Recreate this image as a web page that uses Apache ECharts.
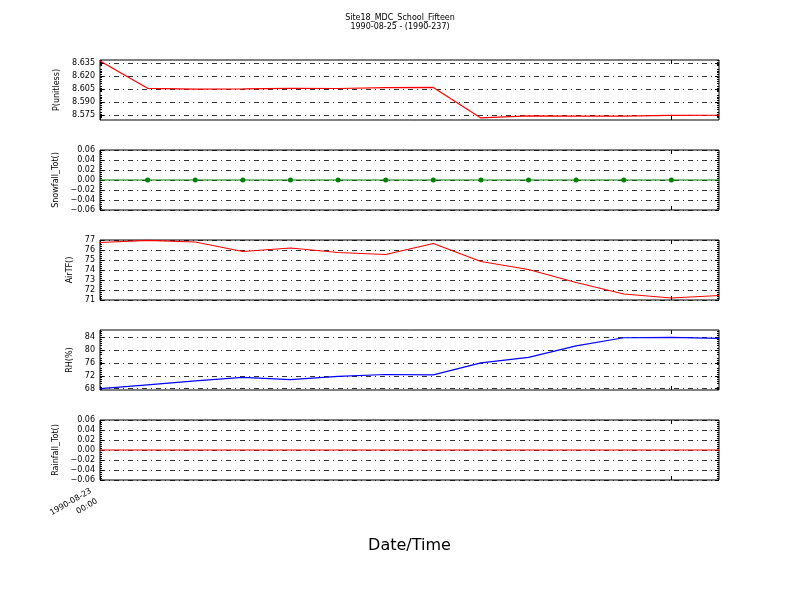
<!DOCTYPE html>
<html><head><meta charset="utf-8">
<script src="https://cdn.jsdelivr.net/npm/echarts@6/dist/echarts.min.js"></script>
<style>html,body{margin:0;padding:0;background:#fff}#c{width:800px;height:600px}</style>
</head><body><div id="c"></div>
<script>
// ---- data ----
const steps = [0, 1, 2, 3, 4, 5, 6, 7, 8, 9, 10, 11, 12, 13];
const xTickValues = [0, 12];
const xTickLabels = ['1990-08-23\n00:00', ''];

const pressure = [8.6373, 8.6058, 8.6048, 8.6052, 8.6058, 8.6056, 8.6066, 8.6068, 8.5716, 8.5739, 8.5737, 8.5737, 8.5745, 8.5747];
const snowfall = [0, 0, 0, 0, 0, 0, 0, 0, 0, 0, 0, 0, 0, 0];
const airTemp = [76.75, 76.97, 76.8, 75.85, 76.2, 75.75, 75.55, 76.65, 74.85, 74.05, 72.75, 71.6, 71.2, 71.45];
const relHum = [68.0, 69.2, 70.4, 71.5, 70.8, 71.8, 72.4, 72.3, 76.0, 77.7, 81.3, 83.8, 83.9, 83.6];
const rainfall = [0, 0, 0, 0, 0, 0, 0, 0, 0, 0, 0, 0, 0, 0];

const pTicks = [8.575, 8.590, 8.605, 8.620, 8.635];
const snowTicks = [-0.06, -0.04, -0.02, 0.00, 0.02, 0.04, 0.06];
const airTicks = [71, 72, 73, 74, 75, 76, 77];
const rhTicks = [68, 72, 76, 80, 84];
const rainTicks = [-0.06, -0.04, -0.02, 0.00, 0.02, 0.04, 0.06];

const titleLines = ['Site18_MDC_School_Fifteen', '1990-08-25 - (1990-237)'];
const xName = 'Date/Time';

// ---- layout / style ----
const FONT = 'DejaVu Sans';
const fmt = (d) => (v) => (v < 0 ? '\u2212' : '') + Math.abs(v).toFixed(d);
const panels = [
  {name: 'P(unitless)', data: pressure, ticks: pTicks, min: 8.5692, max: 8.6385, color: '#ff0000', dec: 3, gap: 37, marker: false},
  {name: 'Snowfall_Tot()', data: snowfall, ticks: snowTicks, min: -0.06, max: 0.06, color: '#008000', dec: 2, gap: 40, marker: true},
  {name: 'AirTF()', data: airTemp, ticks: airTicks, min: 71, max: 77, color: '#ff0000', dec: 0, gap: 26, marker: false},
  {name: 'RH(%)', data: relHum, ticks: rhTicks, min: 67.6, max: 86.2, color: '#0000ff', dec: 0, gap: 25, marker: false},
  {name: 'Rainfall_Tot()', data: rainfall, ticks: rainTicks, min: -0.06, max: 0.06, color: '#ff0000', dec: 2, gap: 38, marker: false}
];
const tops = [60, 150, 240, 330, 420];

const grids = [], xAxes = [], yAxes = [], series = [];
const gridLine = {show: true, lineStyle: {color: '#000', width: 0.8, type: [5, 4, 1, 4]}};
const minor = {show: true, splitNumber: 5, length: 2, lineStyle: {color: '#000', width: 1}};
panels.forEach((p, i) => {
  grids.push({left: 100, width: 619, top: tops[i], height: 60, show: true, borderColor: '#000', borderWidth: 1, backgroundColor: 'transparent'});
  const last = i === panels.length - 1;
  // bottom x axis
  xAxes.push({
    type: 'value', gridIndex: i, min: 0, max: 13, position: 'bottom',
    axisLine: {show: false, onZero: false}, splitLine: {show: false},
    axisTick: {show: true, inside: true, length: 4, lineStyle: {color: '#000'}, customValues: xTickValues},
    axisLabel: last ? {
      show: true, customValues: [xTickValues[0]], rotate: 30, margin: 12, fontSize: 8, fontFamily: FONT, color: '#000', lineHeight: 12,
      padding: [0, 7, 0, 0],
      formatter: (v) => { const k = xTickValues.indexOf(v); return k >= 0 ? xTickLabels[k] : ''; }
    } : {show: false},
    name: last ? xName : '', nameLocation: 'middle', nameGap: 58,
    nameTextStyle: {fontSize: 16, fontFamily: FONT, color: '#000'}
  });
  // top x axis (ticks only)
  xAxes.push({
    type: 'value', gridIndex: i, min: 0, max: 13, position: 'top',
    axisLine: {show: false, onZero: false}, splitLine: {show: false}, axisLabel: {show: false},
    axisTick: {show: true, inside: true, length: 4, lineStyle: {color: '#000'}, customValues: xTickValues}
  });
  // left y axis
  yAxes.push({
    type: 'value', gridIndex: i, min: p.min, max: p.max, position: 'left',
    axisLine: {show: false, onZero: false},
    axisTick: {show: true, inside: true, length: 4, lineStyle: {color: '#000'}, customValues: p.ticks},
    minorTick: minor,
    axisLabel: {show: true, customValues: p.ticks, formatter: fmt(p.dec), fontSize: 8, fontFamily: FONT, color: '#000', margin: 5},
    splitLine: gridLine,
    name: p.name, nameLocation: 'middle', nameGap: p.gap, nameRotate: 90,
    nameTextStyle: {fontSize: 8, fontFamily: FONT, color: '#000'}
  });
  // right y axis (ticks only)
  yAxes.push({
    type: 'value', gridIndex: i, min: p.min, max: p.max, position: 'right',
    axisLine: {show: false, onZero: false}, splitLine: {show: false}, axisLabel: {show: false},
    axisTick: {show: true, inside: true, length: 4, lineStyle: {color: '#000'}, customValues: p.ticks},
    minorTick: minor
  });
  const n = p.data.length;
  series.push({
    type: 'line', xAxisIndex: 2 * i, yAxisIndex: 2 * i,
    data: p.data.map((v, k) => {
      const item = {value: [steps[k], v]};
      if (p.marker && (k === 0 || k === n - 1)) item.symbolSize = 0;
      return item;
    }),
    showSymbol: p.marker, symbol: 'circle', symbolSize: 5,
    lineStyle: {color: p.color, width: 1.2}, itemStyle: {color: p.color},
    animation: false, silent: true
  });
});

const chart = echarts.init(document.getElementById('c'), null, {renderer: 'canvas'});
chart.setOption({
  backgroundColor: '#fff',
  animation: false,
  title: {text: titleLines.join('\n'), left: 'center', top: 8,
    textStyle: {fontSize: 8, fontWeight: 'normal', fontFamily: FONT, color: '#000', lineHeight: 9}},
  grid: grids, xAxis: xAxes, yAxis: yAxes, series: series
});
</script></body></html>
